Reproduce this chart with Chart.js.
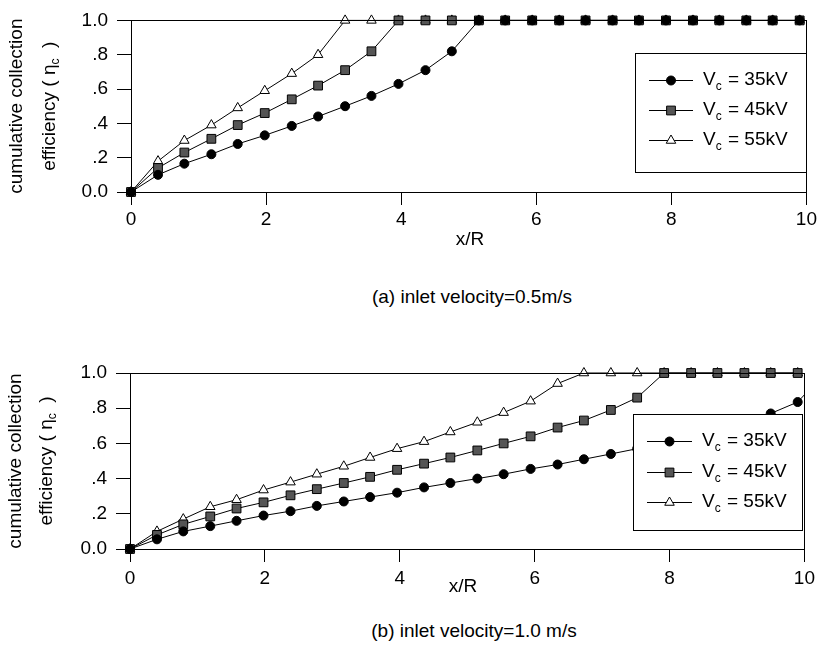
<!DOCTYPE html>
<html>
<head>
<meta charset="utf-8">
<script src="https://cdn.jsdelivr.net/npm/chart.js@4.4.0/dist/chart.umd.min.js"></script>
<style>
  body { margin: 0; background: #fff; width: 820px; height: 663px; position: relative; overflow: hidden;
         font-family: "Liberation Sans", Arial, sans-serif; }
  canvas { position: absolute; left: 0; }
  .cap { position: absolute; width: 400px; text-align: center; font-size: 19px; line-height: 22px; color: #000; }
</style>
</head>
<body>
<canvas id="chartA" width="820" height="265" style="top:0"></canvas>
<div class="cap" style="left:272px; top:286px">(a) inlet velocity=0.5m/s</div>
<canvas id="chartB" width="820" height="290" style="top:318px"></canvas>
<div class="cap" style="left:274px; top:620px">(b) inlet velocity=1.0 m/s</div>
<script>
// x/R positions of the computed points
const xVals = [0, 0.4, 0.79, 1.19, 1.58, 1.98, 2.38, 2.77, 3.17, 3.56, 3.96, 4.36, 4.75,
               5.15, 5.54, 5.94, 6.34, 6.73, 7.13, 7.52, 7.92, 8.32, 8.71, 9.11, 9.5, 9.9, 10.3];
const voltages = ['35kV', '45kV', '55kV'];
const yTickLabels = ['0.0', '.2', '.4', '.6', '.8', '1.0'];

// (a) inlet velocity = 0.5 m/s
const a35 = [0, .10, .165, .22, .28, .33, .385, .44, .50, .56, .63, .71, .82,
             1, 1, 1, 1, 1, 1, 1, 1, 1, 1, 1, 1, 1];
const a45 = [0, .14, .23, .31, .39, .46, .54, .62, .71, .82,
             1, 1, 1, 1, 1, 1, 1, 1, 1, 1, 1, 1, 1, 1, 1, 1];
const a55 = [0, .18, .30, .39, .49, .59, .69, .80,
             1, 1, 1, 1, 1, 1, 1, 1, 1, 1, 1, 1, 1, 1, 1, 1, 1, 1];

// (b) inlet velocity = 1.0 m/s
const b35 = [0, .055, .10, .13, .16, .19, .215, .245, .27, .295, .32, .35, .375, .40,
             .425, .455, .48, .51, .54, .57, .60, .635, .67, .715, .77, .835, 1.0];
const b45 = [0, .08, .14, .185, .23, .265, .305, .34, .375, .41, .45, .485, .52, .56,
             .60, .64, .69, .73, .79, .86, 1, 1, 1, 1, 1, 1];
const b55 = [0, .10, .17, .24, .28, .335, .38, .425, .47, .52, .57, .61, .665, .72,
             .775, .84, .94, 1, 1, 1, 1, 1, 1, 1, 1, 1];

const FONT = '"Liberation Sans", Arial, sans-serif';
const markers = [
  { style: 'circle', r: 4.5, fill: '#000' },
  { style: 'rect', r: 6.2, fill: '#555' },
  { style: 'triangle', r: 5.5, fill: '#fff' }
];

function drawMarker(ctx, m, x, y) {
  ctx.save();
  ctx.fillStyle = m.fill;
  ctx.strokeStyle = '#000';
  ctx.lineWidth = 1;
  ctx.beginPath();
  if (m.style === 'circle') {
    ctx.arc(x, y, m.r, 0, Math.PI * 2);
  } else if (m.style === 'rect') {
    const s = m.r * Math.SQRT1_2;
    ctx.rect(x - s, y - s, 2 * s, 2 * s);
  } else {
    ctx.moveTo(x, y - m.r);
    ctx.lineTo(x + m.r * 0.866, y + m.r * 0.5);
    ctx.lineTo(x - m.r * 0.866, y + m.r * 0.5);
    ctx.closePath();
  }
  ctx.fill();
  ctx.stroke();
  ctx.restore();
}

function makeChart(id, series, o) {
  const datasets = series.map((vals, i) => ({
    label: 'Vc = ' + voltages[i],
    data: vals.map((v, j) => ({ x: xVals[j], y: v })),
    borderColor: '#000',
    borderWidth: 1,
    pointStyle: markers[i].style,
    pointRadius: markers[i].r,
    pointHoverRadius: markers[i].r,
    pointBackgroundColor: markers[i].fill,
    pointBorderColor: '#000',
    pointBorderWidth: 1,
    tension: 0,
    clip: { left: 10, top: 10, right: 0, bottom: 10 }
  }));

  const extras = {
    id: 'extras',
    afterDatasetsDraw(chart) {
      const ctx = chart.ctx;
      const a = chart.chartArea;
      ctx.save();
      ctx.strokeStyle = '#000';
      ctx.lineWidth = 1;
      ctx.strokeRect(Math.round(a.left) + 0.5, Math.round(a.top) + 0.5,
                     Math.round(a.right - a.left), Math.round(a.bottom - a.top));

      // legend box inside the plot
      const L = o.legend;
      ctx.fillStyle = '#fff';
      ctx.fillRect(L.x, L.y, L.w, L.h);
      ctx.strokeRect(L.x + 0.5, L.y + 0.5, L.w, L.h);
      L.rows.forEach((ry, i) => {
        ctx.beginPath();
        ctx.moveTo(L.line0, ry + 0.5);
        ctx.lineTo(L.line1, ry + 0.5);
        ctx.stroke();
        drawMarker(ctx, markers[i], (L.line0 + L.line1) / 2, ry + 0.5);
        ctx.fillStyle = '#000';
        ctx.textBaseline = 'middle';
        ctx.textAlign = 'left';
        ctx.font = '19px ' + FONT;
        ctx.fillText('V', L.text, ry);
        const w = ctx.measureText('V').width;
        ctx.font = '12px ' + FONT;
        ctx.fillText('c', L.text + w, ry + 7);
        const cw = ctx.measureText('c').width;
        ctx.font = '19px ' + FONT;
        ctx.fillText(' = ' + voltages[i], L.text + w + cw + 1, ry);
      });

      // x axis title
      ctx.fillStyle = '#000';
      ctx.textAlign = 'center';
      ctx.textBaseline = 'middle';
      ctx.font = '19px ' + FONT;
      ctx.fillText('x/R', o.xTitle.x, o.xTitle.y);

      // y axis title (two lines, rotated)
      const cy = (a.top + a.bottom) / 2;
      ctx.save();
      ctx.translate(o.yTitle.x1, cy);
      ctx.rotate(-Math.PI / 2);
      ctx.fillText('cumulative collection', 0, 0);
      ctx.restore();

      ctx.save();
      ctx.translate(o.yTitle.x2, cy);
      ctx.rotate(-Math.PI / 2);
      ctx.textAlign = 'left';
      const p1 = 'efficiency ( \u03b7';
      const p3 = '  )';
      ctx.font = '19px ' + FONT;
      const w1 = ctx.measureText(p1).width;
      const w3 = ctx.measureText(p3).width;
      ctx.font = '12px ' + FONT;
      const w2 = ctx.measureText('c').width;
      const start = -(w1 + w2 + w3) / 2;
      ctx.font = '19px ' + FONT;
      ctx.fillText(p1, start, 0);
      ctx.font = '12px ' + FONT;
      ctx.fillText('c', start + w1, 6);
      ctx.font = '19px ' + FONT;
      ctx.fillText(p3, start + w1 + w2, 0);
      ctx.restore();
      ctx.restore();
    }
  };

  return new Chart(document.getElementById(id), {
    type: 'line',
    data: { datasets: datasets },
    options: {
      responsive: false,
      animation: false,
      devicePixelRatio: 1,
      layout: { padding: { top: o.top, right: o.rightPad, left: 0, bottom: 0 } },
      plugins: { legend: { display: false }, tooltip: { enabled: false }, title: { display: false } },
      scales: {
        x: {
          type: 'linear', min: 0, max: 10,
          ticks: { stepSize: 2, color: '#000', font: { size: 19, family: FONT }, padding: o.xTickPad, maxRotation: 0 },
          grid: { drawOnChartArea: false, tickLength: 13, color: '#000' },
          border: { color: '#000', width: 1 },
          afterFit: s => { s.height = o.xAxisH; }
        },
        y: {
          min: 0, max: 1,
          ticks: {
            stepSize: 0.2, color: '#000', font: { size: 19, family: FONT }, padding: 9,
            callback: v => yTickLabels[Math.round(v * 5)]
          },
          grid: { drawOnChartArea: false, tickLength: 14, color: '#000' },
          border: { color: '#000', width: 1 },
          afterFit: s => { s.width = o.left; }
        }
      }
    },
    plugins: [extras]
  });
}

makeChart('chartA', [a35, a45, a55], {
  left: 131, top: 13, rightPad: 11, xAxisH: 73, xTickPad: 3,
  legend: { x: 635, y: 53, w: 171, h: 119, rows: [80, 110, 140], line0: 649, line1: 693, text: 703 },
  xTitle: { x: 470, y: 240 },
  yTitle: { x1: 17, x2: 50 }
});

makeChart('chartB', [b35, b45, b55], {
  left: 130, top: 55, rightPad: 13, xAxisH: 59, xTickPad: 5,
  legend: { x: 633, y: 96, w: 169, h: 116, rows: [123, 154, 184], line0: 647, line1: 692, text: 702 },
  xTitle: { x: 463, y: 269 },
  yTitle: { x1: 16, x2: 47 }
});
</script>
</body>
</html>
